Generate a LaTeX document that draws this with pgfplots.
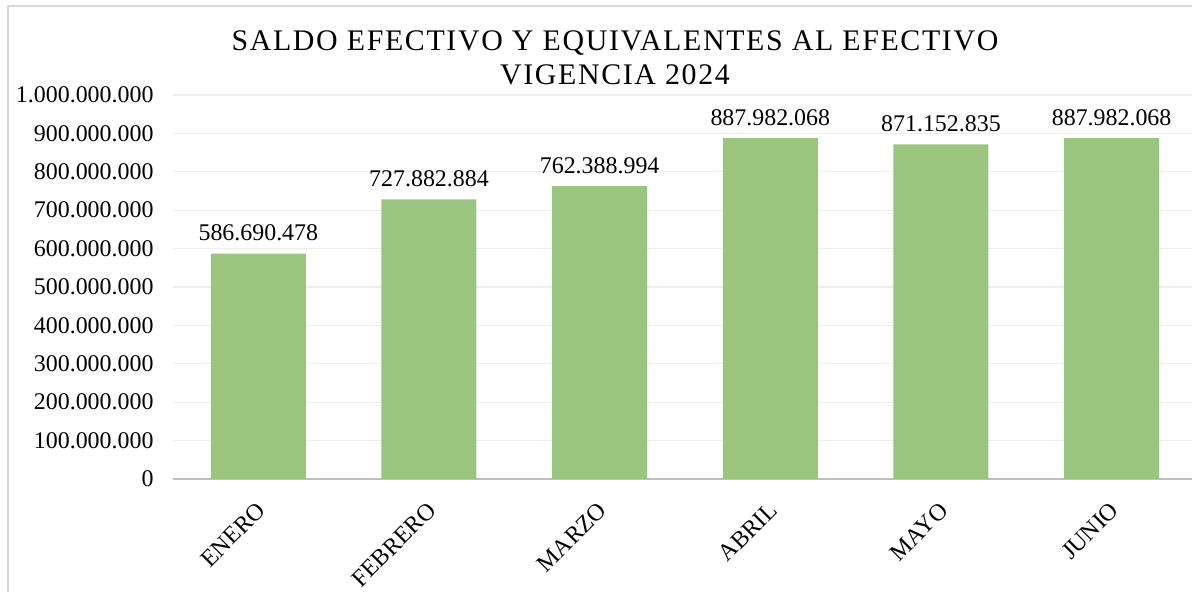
\documentclass[border=0pt]{standalone}
\usepackage{pgfplots}
\pgfplotsset{compat=1.18}
\usepackage{fontspec}
\setmainfont{Liberation Serif}
\newfontfamily\titlefont[LetterSpace=5.5]{Liberation Serif}
\definecolor{bargreen}{HTML}{9BC47F}
\definecolor{gridgray}{HTML}{EEEEEE}
\definecolor{axisgray}{HTML}{BFBFBF}
\definecolor{framegray}{HTML}{D9D9D9}
\begin{document}
\begin{tikzpicture}[x=1bp,y=1bp]
\useasboundingbox (0,0) rectangle (1192,592);
\draw[framegray, line width=1.2bp] (8,-10) -- (8,586) -- (1200,586);
\node[align=center, font=\titlefont\fontsize{30}{34}\selectfont] at (615,534) {SALDO EFECTIVO Y EQUIVALENTES AL EFECTIVO\\VIGENCIA 2024};
\begin{axis}[
  at={(173bp,113bp)}, anchor=south west,
  scale only axis, width=1024bp, height=384bp,
  xmin=-0.5, xmax=5.5, ymin=0, ymax=1000000000,
  axis x line*=bottom, axis y line*=left,
  x axis line style={axisgray, line width=1.6bp},
  y axis line style={draw=none},
  scaled y ticks=false,
  ytick={0,100000000,200000000,300000000,400000000,500000000,600000000,700000000,800000000,900000000,1000000000},
  yticklabels={0,100.000.000,200.000.000,300.000.000,400.000.000,500.000.000,600.000.000,700.000.000,800.000.000,900.000.000,1.000.000.000},
  ymajorgrids, grid style={gridgray, line width=1.2bp},
  xtick={0,1,2,3,4,5},
  xticklabels={ENERO,FEBRERO,MARZO,ABRIL,MAYO,JUNIO},
  major tick length=0pt,
  tick label style={font=\fontsize{24}{28}\selectfont},
  xticklabel style={rotate=45, anchor=north east, xshift=-14bp, yshift=-10bp},
  yticklabel style={anchor=east, xshift=-16bp},
  ytick style={draw=none}, xtick style={draw=none},
  clip=false,
]
\addplot[ybar, bar width=95bp, fill=bargreen, draw=none,
  point meta=explicit symbolic,
  nodes near coords,
  every node near coord/.append style={font=\fontsize{24}{28}\selectfont, anchor=south, yshift=9bp}]
  coordinates {
  (0,586690478) [586.690.478]
  (1,727882884) [727.882.884]
  (2,762388994) [762.388.994]
  (3,887982068) [887.982.068]
  (4,871152835) [871.152.835]
  (5,887982068) [887.982.068]
  };
\end{axis}
\end{tikzpicture}
\end{document}
